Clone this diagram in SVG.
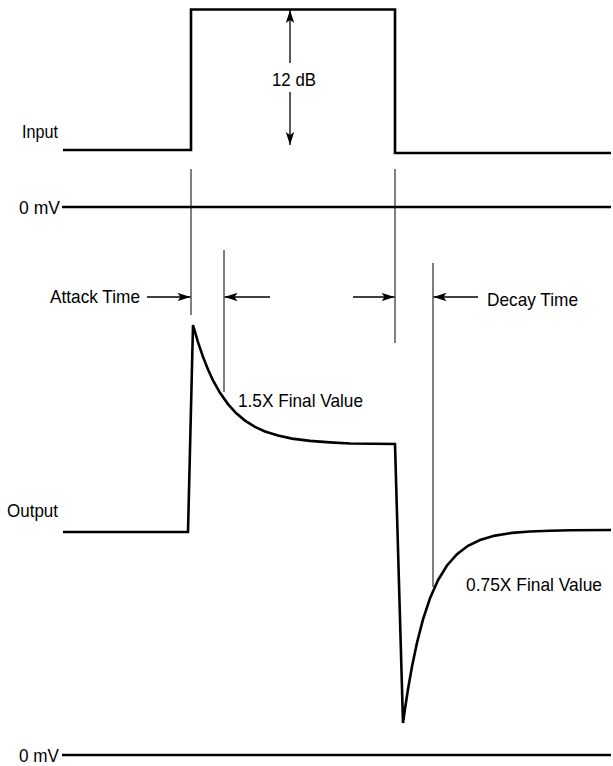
<svg xmlns="http://www.w3.org/2000/svg" width="613" height="766" viewBox="0 0 613 766">
<style>
.wave{fill:none;stroke:#000;stroke-width:2.6;stroke-linejoin:miter}
.base{fill:none;stroke:#000;stroke-width:2.6}
.guide{fill:none;stroke:#000;stroke-width:1}
.arr{fill:none;stroke:#000;stroke-width:1.3}
text{font-family:"Liberation Sans",Arial,sans-serif;font-size:19px;fill:#000}
</style>
<defs>
<marker id="ah" markerUnits="userSpaceOnUse" markerWidth="14" markerHeight="10" refX="13" refY="5" orient="auto">
<path d="M0,0.8 L13,5 L0,9.2 L3,5 Z" fill="#000"/>
</marker>
</defs>
<rect width="613" height="766" fill="#fff"/>
<g id="input">
<path class="wave" d="M63,150 H191 V9.5 H395 V153 H611"/>
<text x="22" y="138" textLength="36" lengthAdjust="spacingAndGlyphs">Input</text>
</g>
<g id="zero-top">
<line class="base" x1="62" y1="207" x2="611" y2="207"/>
<text x="19" y="214" textLength="41" lengthAdjust="spacingAndGlyphs">0 mV</text>
</g>
<g id="guides">
<line class="guide" x1="191" y1="169" x2="191" y2="315"/>
<line class="guide" x1="224" y1="250" x2="224" y2="392"/>
<line class="guide" x1="395" y1="169" x2="395" y2="343"/>
<line class="guide" x1="433" y1="263" x2="433" y2="587"/>
</g>
<g id="output">
<path class="wave" d="M63,532 H188 L193,325 L198,342.2 L203,356.9 L208,369.5 L213,380.3 L220,392.8 L228,404.1 L236,413 L245,420.6 L255,426.9 L265,431.5 L278,435.6 L292,438.6 L310,440.9 L330,442.4 L350,443.5 L395,444 L403,723 L405,708.7 L408,689.3 L412,666.5 L417,642.7 L423,619.4 L430,598.3 L438,580.2 L447,565.5 L457,554.2 L468,545.8 L480,540 L495,535.6 L512,532.9 L530,531.5 L550,530.7 L570,530.2 L611,530"/>
<text x="7" y="517" textLength="51" lengthAdjust="spacingAndGlyphs">Output</text>
</g>
<g id="zero-bottom">
<line class="base" x1="62" y1="755" x2="611" y2="755"/>
<text x="19" y="762" textLength="40" lengthAdjust="spacingAndGlyphs">0 mV</text>
</g>
<g id="connectors">
<line class="arr" x1="290" y1="63" x2="290" y2="10" marker-end="url(#ah)"/>
<line class="arr" x1="290" y1="92" x2="290" y2="145" marker-end="url(#ah)"/>
<line class="arr" x1="147" y1="297" x2="190.5" y2="297" marker-end="url(#ah)"/>
<line class="arr" x1="270" y1="297" x2="224.5" y2="297" marker-end="url(#ah)"/>
<line class="arr" x1="353" y1="297" x2="394.5" y2="297" marker-end="url(#ah)"/>
<line class="arr" x1="478" y1="297" x2="433.5" y2="297" marker-end="url(#ah)"/>
</g>
<g id="labels">
<text x="272" y="86" textLength="44" lengthAdjust="spacingAndGlyphs">12 dB</text>
<text x="50" y="303" textLength="90" lengthAdjust="spacingAndGlyphs">Attack Time</text>
<text x="487" y="306" textLength="91" lengthAdjust="spacingAndGlyphs">Decay Time</text>
<text x="238" y="407" textLength="125" lengthAdjust="spacingAndGlyphs">1.5X Final Value</text>
<text x="466" y="591" textLength="136" lengthAdjust="spacingAndGlyphs">0.75X Final Value</text>
</g>
</svg>
